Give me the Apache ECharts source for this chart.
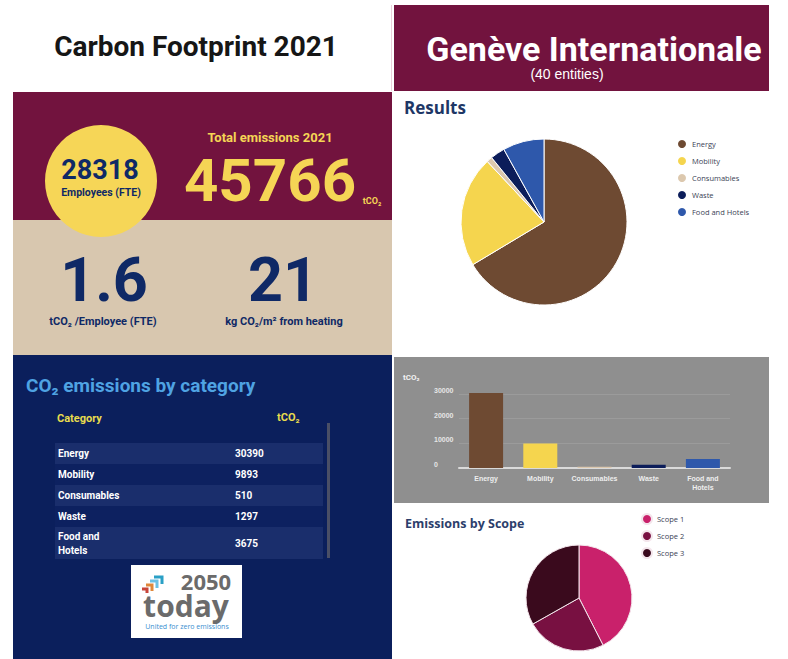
<!DOCTYPE html>
<html>
<head>
<meta charset="utf-8">
<script src="https://cdn.jsdelivr.net/npm/echarts@6/dist/echarts.min.js"></script>
<style>html,body{margin:0;padding:0;background:#fff;}#c{width:788px;height:659px;}</style>
</head>
<body>
<div id="c"></div>
<script>
// ---- data ----
const categories = ['Energy', 'Mobility', 'Consumables', 'Waste', 'Food and Hotels'];
const emissions = [30390, 9893, 510, 1297, 3675];
const scopes = ['Scope 1', 'Scope 2', 'Scope 3'];
const scopeValues = [19450, 11130, 15186];
const yTickValues = [0, 10000, 20000, 30000];
const employees = 28318;
const totalEmissions = 45766;
const perEmployee = '1.6';
const heatingIntensity = '21';
const entities = 40;

// ---- styles ----
const catColors = ['#6E4A32', '#F5D54E', '#DCC8AE', '#0C1D5A', '#2E58AB'];
const scopeColors = ['#C9216B', '#781041', '#3A0A1D'];
const MAROON = '#72133E', BEIGE = '#D8C7AF', NAVY = '#0B1F5C', YELLOW = '#F5D555', DNAVY = '#0F2966';

function txt(x, y, text, o) {
  o = o || {};
  const align = o.align || 'center';
  const st = {
    text: text, fill: o.fill || '#000',
    fontSize: o.size || 12, fontWeight: o.weight || 'normal',
    fontFamily: o.family || 'Roboto',
    align: align, textAlign: align,
    verticalAlign: 'middle', textVerticalAlign: 'middle'
  };
  if (o.lh) st.lineHeight = o.lh;
  return { type: 'text', x: x, y: y, z: 5, silent: true, style: st };
}
function rect(x, y, w, h, fill, z) {
  return { type: 'rect', silent: true, z: z === undefined ? -10 : z, shape: { x: x, y: y, width: w, height: h }, style: { fill: fill } };
}
const wrap = v => v.replace(' and ', ' and\n');

const g = [];
// panels
g.push(rect(394, 5, 375, 86, MAROON));
g.push(rect(13, 92, 379, 128, MAROON));
g.push(rect(13, 220, 379, 135, BEIGE));
g.push(rect(13, 355, 379, 304, NAVY));
g.push(rect(394, 357, 375, 146, '#8F8F8F'));
g.push(rect(391, 5, 1, 86, '#EACFDA'));

// header texts
g.push(txt(196, 46, 'Carbon Footprint 2021', { size: 28, weight: 'bold', fill: '#161616' }));
g.push(txt(594, 49, 'Genève Internationale', { size: 34, weight: 'bold', fill: '#FFFFFF', lh: 30 }));
g.push(txt(567, 74, '(' + entities + ' entities)', { size: 14, family: 'Liberation Sans', fill: '#FFFFFF', lh: 14 }));

// KPI block
g.push({ type: 'circle', silent: true, z: 1, shape: { cx: 101, cy: 181, r: 56 }, style: { fill: '#F6D657' } });
g.push(txt(100, 170, String(employees), { size: 27, weight: 'bold', fill: DNAVY, lh: 20 }));
g.push(txt(101, 192, 'Employees (FTE)', { size: 10.5, weight: 'bold', fill: DNAVY, lh: 11 }));
g.push(txt(270, 137, 'Total emissions 2021', { size: 13, weight: 'bold', fill: YELLOW }));
g.push(txt(270, 180, String(totalEmissions), { size: 60, weight: 'bold', fill: YELLOW, lh: 48 }));
g.push(txt(372, 201, 'tCO₂', { size: 9, weight: 'bold', fill: YELLOW }));
g.push(txt(104, 280, perEmployee, { size: 61, weight: 'bold', fill: DNAVY, lh: 46 }));
g.push(txt(283, 280, heatingIntensity, { size: 61, weight: 'bold', fill: DNAVY, lh: 46 }));
g.push(txt(103, 321, 'tCO₂ /Employee (FTE)', { size: 11, weight: 'bold', fill: DNAVY, lh: 12 }));
g.push(txt(284, 321, 'kg CO₂/m² from heating', { size: 11, weight: 'bold', fill: DNAVY, lh: 12 }));

// table
g.push(txt(26, 385, 'CO₂ emissions by category', { size: 19, weight: 'bold', fill: '#4FA3E3', align: 'left' }));
g.push(txt(57, 418, 'Category', { size: 11, weight: 'bold', fill: '#E8DC4E', align: 'left' }));
g.push(txt(277, 417, 'tCO₂', { size: 11, weight: 'bold', fill: '#E8DC4E', align: 'left' }));
let ty = 443;
categories.forEach((c, i) => {
  const lbl = wrap(c);
  const h = lbl.indexOf('\n') >= 0 ? 32 : 21;
  g.push(rect(55, ty, 268, h, i % 2 === 0 ? '#1A2E6C' : '#0D2160', 1));
  g.push(txt(58, ty + h / 2, lbl, { size: 10, weight: 'bold', fill: '#FFFFFF', align: 'left', lh: 14 }));
  g.push(txt(235, ty + h / 2, String(emissions[i]), { size: 10, weight: 'bold', fill: '#FFFFFF', align: 'left' }));
  ty += h;
});
g.push(rect(327, 423, 3, 135, '#4A4F66', 2));

// logo
g.push(rect(131, 565, 111, 73, '#FFFFFF', 1));
[[[154, 577], [162, 577], [162, 584], '#2AA0C6'], [[150, 581], [157, 581], [157, 588], '#6CC0E4'],
 [[146, 585], [152, 585], [152, 591], '#E0873A'], [[142, 589], [147, 589], [147, 593], '#C8453A']].forEach(a => {
  g.push({ type: 'polyline', silent: true, z: 3, shape: { points: [a[0], a[1], a[2]] }, style: { stroke: a[3], lineWidth: 3, fill: null } });
});
g.push(txt(206, 581, '2050', { size: 22, weight: 'bold', fill: '#6B6B6B', family: 'Open Sans', lh: 16 }));
g.push(txt(186, 605, 'today', { size: 30, weight: 'bold', fill: '#6B6B6B', family: 'Open Sans', lh: 20 }));
g.push(txt(187, 626, 'United for zero emissions', { size: 7, fill: '#3A8FD0', family: 'Open Sans', lh: 7 }));

// right panel titles
g.push(txt(404, 107, 'Results', { size: 17, weight: 'bold', fill: '#1E3766', family: 'Open Sans', align: 'left' }));
g.push(txt(403, 377, 'tCO₂', { size: 8, weight: 'bold', fill: '#F2F2F2', align: 'left' }));
g.push(txt(405, 523, 'Emissions by Scope', { size: 12.5, weight: 'bold', fill: '#2C3E6B', family: 'Open Sans', align: 'left' }));

const chart = echarts.init(document.getElementById('c'), null, { renderer: 'svg' });
chart.setOption({
  animation: false,
  backgroundColor: '#FFFFFF',
  graphic: { elements: g },
  legend: [
    { data: categories, orient: 'vertical', left: 676, top: 138, padding: 0, itemGap: 5, itemWidth: 10, itemHeight: 10, icon: 'circle',
      textStyle: { fontSize: 7.5, lineHeight: 10, color: '#3A3F55', fontFamily: 'Open Sans' } },
    { data: scopes, orient: 'vertical', left: 641, top: 513, padding: 0, itemGap: 5, itemWidth: 10, itemHeight: 10, icon: 'circle',
      textStyle: { fontSize: 7.5, lineHeight: 10, color: '#3A3F55', fontFamily: 'Open Sans' } }
  ],
  grid: { left: 459, right: 58, top: 394, bottom: 191 },
  xAxis: {
    type: 'category', data: categories,
    axisTick: { show: false },
    axisLine: { lineStyle: { color: '#DADADA', width: 2 } },
    axisLabel: { interval: 0, color: '#EEEEEE', fontSize: 7, fontWeight: 'bold', margin: 6, lineHeight: 9, formatter: wrap }
  },
  yAxis: {
    type: 'value', min: yTickValues[0], max: yTickValues[yTickValues.length - 1], interval: yTickValues[1] - yTickValues[0],
    axisLine: { show: false }, axisTick: { show: false },
    splitLine: { lineStyle: { color: '#9B9B9B' } },
    axisLabel: { align: 'left', verticalAlign: 'bottom', margin: 25, color: '#E6E6E6', fontSize: 7, fontWeight: 'bold', formatter: v => String(v) }
  },
  series: [
    { type: 'pie', name: 'Results', center: [544, 222], radius: 83, label: { show: false }, labelLine: { show: false },
      itemStyle: { borderColor: '#FFFFFF', borderWidth: 1 },
      data: categories.map((c, i) => ({ name: c, value: emissions[i], itemStyle: { color: catColors[i] } })) },
    { type: 'bar', name: 'tCO2', clip: false, barWidth: 34,
      data: emissions.map((v, i) => ({ value: v, itemStyle: { color: catColors[i] } })) },
    { type: 'pie', name: 'Scope', center: [579, 598], radius: 53, label: { show: false }, labelLine: { show: false },
      itemStyle: { borderColor: '#F4E6EC', borderWidth: 1 },
      data: scopes.map((s, i) => ({ name: s, value: scopeValues[i], itemStyle: { color: scopeColors[i] } })) }
  ]
});
</script>
</body>
</html>
